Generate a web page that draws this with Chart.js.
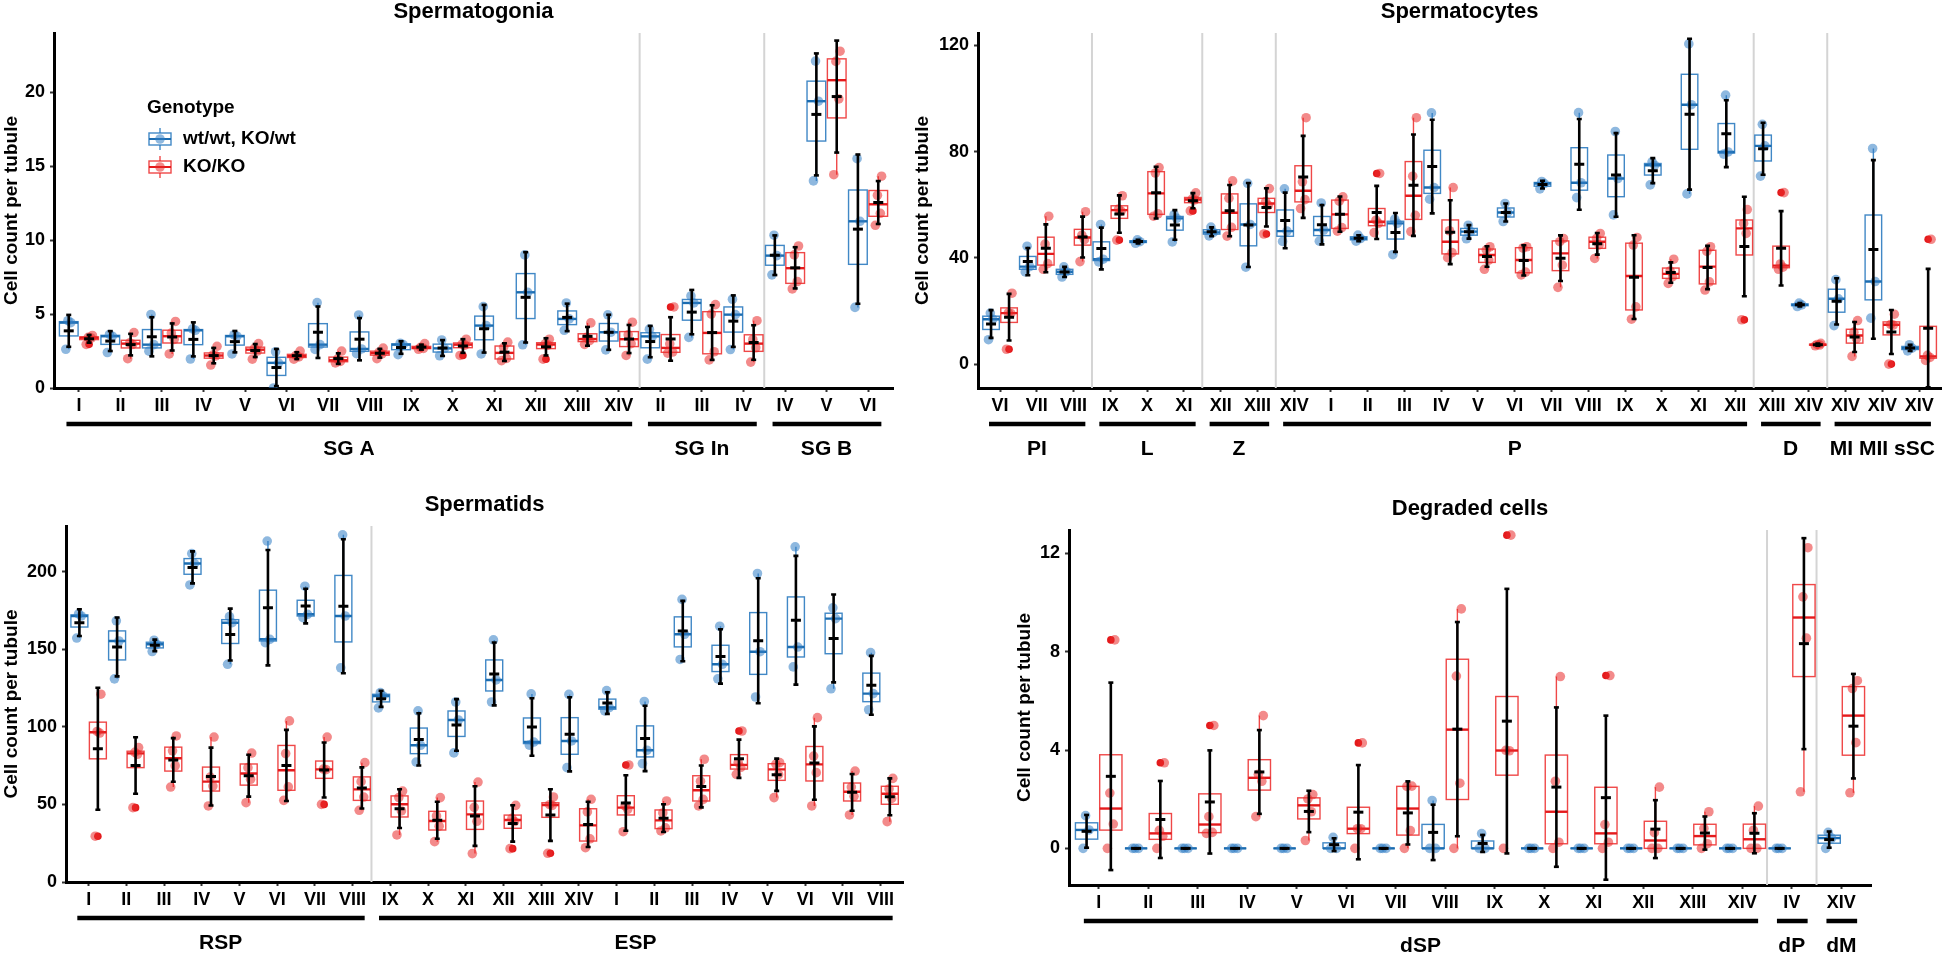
<!DOCTYPE html>
<html>
<head>
<meta charset="utf-8">
<script src="https://cdn.jsdelivr.net/npm/chart.js@4.4.1/dist/chart.umd.min.js"></script>
<style>
  body { margin: 0; background: #fff; width: 1946px; height: 957px; position: relative; overflow: hidden; }
  canvas { position: absolute; }
</style>
</head>
<body>
<canvas id="c1" width="908" height="478" style="left:0;top:0"></canvas>
<canvas id="c2" width="1038" height="478" style="left:908px;top:0"></canvas>
<canvas id="c3" width="908" height="479" style="left:0;top:478px"></canvas>
<canvas id="c4" width="1038" height="479" style="left:908px;top:478px"></canvas>
<script>
// ---- Spermatogonia ----
const sgCategories = ['I','II','III','IV','V','VI','VII','VIII','IX','X','XI','XII','XIII','XIV',
  'II','III','IV', 'IV','V','VI'];
const sgGroups = [['SG A', 0, 13], ['SG In', 14, 16], ['SG B', 17, 19]];
const sgTicks = [0, 5, 10, 15, 20];
const sgWt = [
  [2.62, 4.42, 4.55], [2.4, 3.5, 3.62], [2.49, 2.93, 4.97], [1.96, 3.9, 4.0], [2.3, 3.5, 3.6],
  [0, 1.7, 2.45], [2.61, 2.93, 5.77], [2.32, 2.64, 4.94], [2.25, 2.93, 3.03], [2.18, 2.68, 3.25],
  [2.3, 4.22, 5.5], [2.92, 6.47, 9.0], [3.9, 4.67, 5.75], [2.58, 3.77, 4.95],
  [1.95, 3.49, 3.98], [3.42, 5.75, 6.22], [2.6, 4.96, 6.0],
  [7.65, 8.95, 10.33], [14.0, 19.39, 22.1], [5.45, 11.27, 15.5]
];
const sgKo = [
  [2.95, 3.38, 3.42, 3.55], [1.98, 2.95, 3.05, 3.75], [2.3, 3.29, 3.71, 4.5], [1.55, 2.17, 2.22, 2.82],
  [1.95, 2.5, 2.68, 3.0], [1.95, 2.1, 2.2, 2.5], [1.7, 1.8, 1.95, 2.5], [1.98, 2.3, 2.42, 2.7],
  [2.62, 2.68, 2.75, 3.0], [2.2, 2.9, 2.96, 3.3], [1.85, 2.0, 2.75, 3.1], [1.95, 2.9, 2.98, 3.3],
  [2.95, 3.2, 3.42, 4.4], [2.2, 3.0, 3.6, 4.45],
  [2.36, 2.43, 2.99, 5.48], [1.9, 2.45, 5.0, 5.64], [1.75, 2.72, 3.28, 4.55],
  [6.7, 7.2, 9.0, 9.6], [14.42, 19.54, 22.08, 22.77], [11.0, 11.81, 13.03, 14.32]
];

// ---- Spermatocytes ----
const scCategories = ['VI','VII','VIII', 'IX','X','XI', 'XII','XIII',
  'XIV','I','II','III','IV','V','VI','VII','VIII','IX','X','XI','XII', 'XIII','XIV', 'XIV','XIV','XIV'];
const scGroups = [['PI', 0, 2], ['L', 3, 5], ['Z', 6, 7], ['P', 8, 20], ['D', 21, 22], ['MI MII sSC', 23, 25]];
const scTicks = [0, 40, 80, 120];
const scWt = [
  [9.2, 16.9, 19.2], [34.7, 36.7, 44.4], [32.8, 34.8, 36.6],
  [38.5, 39.5, 52.6], [45.5, 46.1, 46.8], [46.0, 54.9, 56.3],
  [48.3, 49.6, 51.6], [36.5, 52.6, 68.1],
  [46.2, 50.1, 66.0], [46.3, 50.5, 60.7], [46.3, 47.3, 48.6], [41.2, 53.0, 54.6], [62.1, 66.5, 94.6],
  [47.2, 49.9, 52.3], [53.7, 57.1, 60.5], [66.0, 68.0, 68.8], [62.7, 68.3, 94.7], [56.2, 69.9, 87.6],
  [67.5, 74.9, 76.2], [64.1, 97.7, 120.6], [79.1, 79.9, 101.3],
  [70.8, 82.2, 90.3], [21.7, 22.3, 23.0],
  [14.5, 24.6, 31.8], [17.3, 31.1, 81.2], [5.0, 6.0, 7.3]
];
const scKo = [
  [5.6, 19.07, 19.33, 26.7], [35.7, 37.83, 45.17, 55.7], [38.6, 46.87, 48.53, 57.4],
  [46.7, 57.63, 58.37, 63.4], [55.7, 56.63, 71.97, 74.0], [57.7, 61.83, 62.17, 64.5],
  [48.2, 51.53, 62.47, 69.0], [49.0, 59.8, 61.2, 66.1],
  [58.6, 61.93, 68.67, 92.8], [50.1, 51.43, 61.37, 63.0], [49.5, 53.0, 54.2, 71.8],
  [49.9, 56.03, 70.77, 92.8], [40.1, 41.97, 50.23, 66.5], [35.7, 39.17, 43.03, 44.2],
  [33.6, 34.67, 43.73, 44.2], [28.9, 37.3, 46.1, 47.3], [39.8, 44.87, 47.33, 49.2],
  [16.9, 21.57, 44.83, 47.7], [30.4, 32.93, 35.07, 39.5], [27.9, 30.97, 42.43, 44.2],
  [16.7, 49.23, 52.97, 58.2],
  [35.7, 36.5, 37.7, 64.6], [6.9, 7.2, 7.4, 7.8],
  [2.9, 9.57, 12.03, 16.4], [0, 14.67, 14.93, 18.8], [1.4, 2.5, 3.3, 47.0]
];

// ---- Spermatids ----
const stCategories = ['I','II','III','IV','V','VI','VII','VIII',
  'IX','X','XI','XII','XIII','XIV','I','II','III','IV','V','VI','VII','VIII'];
const stGroups = [['RSP', 0, 7], ['ESP', 8, 21]];
const stTicks = [0, 50, 100, 150, 200];
const stWt = [
  [157.2, 171.4, 172.8], [130.9, 155.3, 168.3], [148.5, 153.2, 155.8], [191.4, 205.2, 211.6],
  [140.3, 167.1, 171.0], [154.2, 156.4, 219.7], [170.3, 172.5, 190.6], [138.0, 171.4, 223.7],
  [112.2, 119.9, 122.0], [77.3, 88.1, 110.3], [83.2, 104.4, 116.0], [116.0, 130.2, 156.0],
  [88.2, 90.2, 121.2], [73.7, 90.9, 120.9], [110.3, 112.4, 123.3], [76.3, 84.9, 116.3],
  [143.4, 159.6, 182.1], [130.9, 140.3, 164.8], [119.2, 148.4, 198.8], [138.6, 151.4, 216.0],
  [124.5, 169.7, 176.7], [111.0, 121.4, 147.8]
];
const stKo = [
  [29.5, 96.0, 97.0, 121.0], [47.9, 82.3, 83.5, 86.6], [61.2, 74.9, 84.5, 94.1], [49.0, 61.8, 67.6, 93.4],
  [51.1, 66.2, 73.7, 83.1], [52.6, 61.27, 82.73, 103.8], [50.0, 72.4, 72.8, 93.4], [46.2, 54.73, 64.67, 76.9],
  [30.3, 45.77, 54.43, 58.6], [26.0, 36.0, 42.6, 54.4], [18.3, 39.1, 48.1, 64.4], [21.5, 38.97, 41.03, 49.4],
  [18.5, 49.4, 49.8, 54.8], [22.1, 27.83, 45.17, 53.3], [32.4, 46.8, 49.0, 75.4], [32.9, 34.9, 44.5, 52.2],
  [49.0, 53.27, 64.93, 79.1], [69.4, 73.9, 77.0, 97.3], [54.4, 69.2, 76.0, 76.9], [49.0, 70.47, 81.13, 105.9],
  [43.2, 55.2, 61.2, 71.5], [38.9, 53.83, 59.97, 66.8]
];

// ---- Degraded cells ----
const dgCategories = ['I','II','III','IV','V','VI','VII','VIII','IX','X','XI','XII','XIII','XIV', 'IV', 'XIV'];
const dgGroups = [['dSP', 0, 13], ['dP', 14, 14], ['dM', 15, 15]];
const dgTicks = [0, 4, 8, 12];
const dgWt = [
  [0, 0.75, 1.33], [0, 0, 0], [0, 0, 0], [0, 0, 0], [0, 0, 0], [0, 0, 0.45], [0, 0, 0], [0, 0, 1.95],
  [0, 0, 0.6], [0, 0, 0], [0, 0, 0], [0, 0, 0], [0, 0, 0], [0, 0, 0],
  [0, 0, 0], [0, 0.42, 0.65]
];
const dgKo = [
  [0, 0.99, 2.25, 8.48], [0, 0.49, 0.73, 3.48], [0.61, 0.65, 1.29, 5.0], [1.29, 2.73, 3.01, 5.4],
  [0.32, 1.49, 2.01, 2.19], [0, 0.8, 0.8, 4.29], [0, 0.72, 2.52, 2.53], [0, 2.65, 7.01, 9.74],
  [0, 3.97, 3.99, 12.74], [0, 0.25, 2.73, 6.99], [0, 0.25, 0.97, 7.03], [0, 0, 0.64, 2.49],
  [0, 0.19, 0.81, 1.49], [0, 0, 0.74, 1.72],
  [2.3, 8.55, 10.23, 12.23], [2.26, 4.3, 6.5, 6.82]
];

const FONT = '"Liberation Sans", Arial, Helvetica, sans-serif';
Chart.defaults.font.family = FONT;

const BLUE = {line: 'rgba(44,123,192,0.9)', med: '#1b6cb0', pt: 'rgba(50,126,196,0.55)', out: '#2c7bb6'};
const RED = {line: 'rgba(236,40,40,0.85)', med: '#e41a1c', pt: 'rgba(234,42,42,0.55)', out: '#e41a1c'};
const DODGE = 0.245, HALF_BOX = 0.225;
const JITTER = [-0.07, 0.05, -0.02, 0.08];

function boxStats(vals) {
  const s = [...vals].sort((a, b) => a - b);
  const q = p => {
    const h = (s.length - 1) * p, lo = Math.floor(h);
    return s[lo] + (h - lo) * (s[Math.ceil(h)] - s[lo]);
  };
  const q1 = q(0.25), med = q(0.5), q3 = q(0.75), iqr = q3 - q1;
  const isIn = v => v >= q1 - 1.5 * iqr - 1e-9 && v <= q3 + 1.5 * iqr + 1e-9;
  const inside = s.filter(isIn);
  const mean = s.reduce((a, b) => a + b, 0) / s.length;
  const sd = Math.sqrt(s.reduce((a, b) => a + (b - mean) ** 2, 0) / (s.length - 1));
  return {q1, med, q3, lo: Math.min(...inside), hi: Math.max(...inside),
    outliers: s.filter(v => !isIn(v)), mean, sd};
}

function eachBox(spec, fn) {
  [[spec.wt, BLUE, -DODGE], [spec.ko, RED, DODGE]].forEach(([series, col, off]) => {
    series.forEach((vals, i) => fn(boxStats(vals), i + off, col));
  });
}

function seg(ctx, x1, y1, x2, y2) {
  ctx.beginPath(); ctx.moveTo(x1, y1); ctx.lineTo(x2, y2); ctx.stroke();
}
function dot(ctx, x, y, r) {
  ctx.beginPath(); ctx.arc(x, y, r, 0, Math.PI * 2); ctx.fill();
}
function clipTo(ctx, a) {
  ctx.beginPath(); ctx.rect(a.left, a.top, a.right - a.left, a.bottom - a.top); ctx.clip();
}

function drawLegend(ctx) {
  ctx.font = 'bold 19px ' + FONT;
  ctx.fillStyle = '#000'; ctx.textAlign = 'left'; ctx.textBaseline = 'middle';
  ctx.fillText('Genotype', 147, 108);
  [['wt/wt, KO/wt', BLUE, 139], ['KO/KO', RED, 167]].forEach(([label, col, cy]) => {
    ctx.strokeStyle = col.line; ctx.lineWidth = 1.4;
    seg(ctx, 160, cy - 11, 160, cy - 6);
    seg(ctx, 160, cy + 6, 160, cy + 11);
    ctx.strokeRect(149, cy - 6, 22, 12);
    ctx.strokeStyle = col.med; ctx.lineWidth = 2;
    seg(ctx, 149, cy, 171, cy);
    ctx.fillStyle = col.pt; dot(ctx, 160, cy, 4.8);
    ctx.fillStyle = '#000'; ctx.fillText(label, 183, cy);
  });
}

function panelPlugin(spec) {
  return {
    id: 'panel_' + spec.canvas,
    beforeDatasetsDraw(chart) {
      const {ctx, chartArea: a, scales: {x, y}} = chart;
      ctx.save();
      clipTo(ctx, a);
      ctx.strokeStyle = '#d4d4d4'; ctx.lineWidth = 2;
      spec.groups.slice(0, -1).forEach(g => {
        const px = x.getPixelForValue(g[2] + 0.5);
        seg(ctx, px, a.top, px, a.bottom);
      });
      eachBox(spec, (st, cx, col) => {
        const xl = x.getPixelForValue(cx - HALF_BOX), xr = x.getPixelForValue(cx + HALF_BOX);
        const xc = x.getPixelForValue(cx);
        const y1 = y.getPixelForValue(st.q1), y3 = y.getPixelForValue(st.q3), ym = y.getPixelForValue(st.med);
        ctx.strokeStyle = col.line; ctx.lineWidth = 1.4;
        seg(ctx, xc, y3, xc, y.getPixelForValue(st.hi));
        seg(ctx, xc, y1, xc, y.getPixelForValue(st.lo));
        ctx.strokeRect(xl, y3, xr - xl, y1 - y3);
        ctx.strokeStyle = col.med; ctx.lineWidth = 2.4;
        seg(ctx, xl, ym, xr, ym);
        ctx.fillStyle = col.out;
        st.outliers.forEach(v => dot(ctx, xc, y.getPixelForValue(v), 3.8));
      });
      ctx.restore();
    },
    afterDatasetsDraw(chart) {
      const {ctx, chartArea: a, scales: {x, y}} = chart;
      ctx.save();
      clipTo(ctx, a);
      ctx.strokeStyle = '#000';
      eachBox(spec, (st, cx) => {
        const xc = x.getPixelForValue(cx);
        const yt = y.getPixelForValue(st.mean + st.sd), yb = y.getPixelForValue(st.mean - st.sd);
        const ym = y.getPixelForValue(st.mean);
        ctx.lineWidth = 2.6;
        seg(ctx, xc, yt, xc, yb);
        seg(ctx, xc - 2.5, yt, xc + 2.5, yt);
        seg(ctx, xc - 2.5, yb, xc + 2.5, yb);
        ctx.lineWidth = 3;
        seg(ctx, xc - 5, ym, xc + 5, ym);
      });
      ctx.restore();
    },
    afterDraw(chart) {
      const {ctx, chartArea: a, scales: {x}} = chart;
      ctx.save();
      ctx.fillStyle = '#000'; ctx.strokeStyle = '#000';
      ctx.textAlign = 'center'; ctx.textBaseline = 'middle';
      ctx.font = 'bold 22px ' + FONT;
      ctx.fillText(spec.title, (a.left + a.right) / 2, a.top - 21);
      ctx.font = 'bold 21px ' + FONT;
      ctx.lineWidth = 4.5;
      spec.groups.forEach(([name, from, to]) => {
        const yb = a.bottom + 36;
        seg(ctx, x.getPixelForValue(from - 0.3), yb, x.getPixelForValue(to + 0.32), yb);
        ctx.fillText(name, x.getPixelForValue((from + to) / 2), a.bottom + 61);
      });
      if (spec.legend) drawLegend(ctx);
      ctx.restore();
    }
  };
}

function makeChart(spec) {
  const n = spec.categories.length;
  const datasets = [[spec.wt, BLUE, -DODGE, 'wt/wt, KO/wt'], [spec.ko, RED, DODGE, 'KO/KO']].map(([series, col, off, label]) => ({
    label,
    data: series.flatMap((vals, i) => vals.map((v, k) => ({x: i + off + JITTER[k % JITTER.length], y: v}))),
    pointRadius: 4.8,
    pointHoverRadius: 4.8,
    pointBackgroundColor: col.pt,
    pointBorderWidth: 0
  }));
  const tickFont = {size: 18, weight: 'bold'};
  const grid = {drawOnChartArea: false, drawTicks: true, tickLength: 4, tickColor: '#333', tickWidth: 2};
  const border = {display: true, color: '#000', width: 3};
  return new Chart(document.getElementById(spec.canvas), {
    type: 'scatter',
    data: {datasets},
    options: {
      responsive: false,
      animation: false,
      devicePixelRatio: 1,
      events: [],
      layout: {padding: spec.padding},
      plugins: {legend: {display: false}, tooltip: {enabled: false}, title: {display: false}},
      scales: {
        x: {
          type: 'linear', min: -0.6, max: n - 0.4,
          afterBuildTicks: s => { s.ticks = spec.categories.map((c, i) => ({value: i})); },
          afterFit: s => { s.height = 30; },
          ticks: {callback: (v, i) => spec.categories[i], autoSkip: false, maxRotation: 0, padding: 3, color: '#000', font: tickFont},
          grid, border
        },
        y: {
          type: 'linear', min: spec.yMin, max: spec.yMax,
          afterBuildTicks: s => { s.ticks = spec.yTicks.map(v => ({value: v})); },
          afterFit: s => { s.width = spec.yWidth; },
          ticks: {callback: v => v, padding: 5, color: '#000', font: tickFont},
          grid, border,
          title: {display: true, text: 'Cell count per tubule', color: '#000', font: {size: 19, weight: 'bold'}, padding: {top: 0, bottom: 0}}
        }
      }
    },
    plugins: [panelPlugin(spec)]
  });
}

makeChart({canvas: 'c1', title: 'Spermatogonia', categories: sgCategories, groups: sgGroups, wt: sgWt, ko: sgKo,
  yMin: 0, yMax: 24, yTicks: sgTicks, yWidth: 54, padding: {top: 33, left: 0, right: 15, bottom: 60}, legend: true});
makeChart({canvas: 'c2', title: 'Spermatocytes', categories: scCategories, groups: scGroups, wt: scWt, ko: scKo,
  yMin: -9, yMax: 124.7, yTicks: scTicks, yWidth: 67, padding: {top: 33, left: 3, right: 3, bottom: 60}});
makeChart({canvas: 'c3', title: 'Spermatids', categories: stCategories, groups: stGroups, wt: stWt, ko: stKo,
  yMin: 0, yMax: 229.4, yTicks: stTicks, yWidth: 66, padding: {top: 48, left: 0, right: 1, bottom: 45}});
makeChart({canvas: 'c4', title: 'Degraded cells', categories: dgCategories, groups: dgGroups, wt: dgWt, ko: dgKo,
  yMin: -1.49, yMax: 12.95, yTicks: dgTicks, yWidth: 56, padding: {top: 52, left: 105, right: 75, bottom: 42}});
</script>
</body>
</html>
